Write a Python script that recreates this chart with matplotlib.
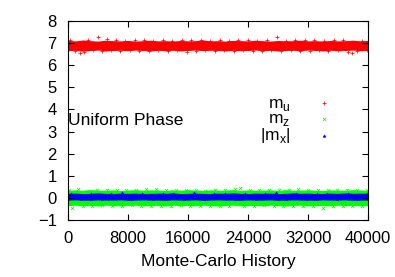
import numpy as np
import matplotlib
matplotlib.use("Agg")
import matplotlib.pyplot as plt

plt.rcParams['font.family'] = ['Liberation Sans', 'DejaVu Sans']
plt.rcParams['mathtext.fontset'] = 'custom'
plt.rcParams['mathtext.rm'] = 'Liberation Sans'

# sampled band edges of the Monte-Carlo history (every 1000 steps)
steps = list(range(0, 40001, 1000))
mu_hi = [7.06, 7.04, 7.08, 7.05, 7.03, 7.07, 7.05, 7.04, 7.06, 7.03, 7.05, 7.07, 7.04, 7.05,
         7.03, 7.06, 7.04, 7.05, 7.08, 7.04, 7.05, 7.03, 7.06, 7.05, 7.04, 7.07, 7.05, 7.03,
         7.06, 7.04, 7.05, 7.07, 7.04, 7.05, 7.03, 7.06, 7.04, 7.05, 7.07, 7.04, 7.06]
mu_lo = [6.72, 6.74, 6.70, 6.73, 6.75, 6.71, 6.73, 6.74, 6.72, 6.75, 6.73, 6.71, 6.74, 6.72,
         6.74, 6.71, 6.73, 6.75, 6.72, 6.74, 6.73, 6.71, 6.74, 6.72, 6.73, 6.75, 6.72, 6.74,
         6.71, 6.73, 6.74, 6.72, 6.75, 6.73, 6.71, 6.74, 6.72, 6.73, 6.75, 6.72, 6.73]
mz_hi = [0.28, 0.30, 0.27, 0.31, 0.29, 0.28, 0.30, 0.27, 0.29, 0.31, 0.28, 0.30, 0.29, 0.27,
         0.30, 0.28, 0.31, 0.29, 0.27, 0.30, 0.28, 0.29, 0.31, 0.27, 0.30, 0.28, 0.29, 0.30,
         0.27, 0.31, 0.28, 0.29, 0.30, 0.28, 0.27, 0.30, 0.29, 0.28, 0.31, 0.29, 0.28]
mz_lo = [-0.29, -0.27, -0.30, -0.28, -0.31, -0.27, -0.29, -0.30, -0.28, -0.27, -0.30, -0.29,
         -0.28, -0.31, -0.27, -0.29, -0.28, -0.30, -0.27, -0.29, -0.31, -0.28, -0.27, -0.30,
         -0.29, -0.28, -0.30, -0.27, -0.29, -0.31, -0.28, -0.27, -0.30, -0.29, -0.28, -0.30,
         -0.27, -0.29, -0.28, -0.30, -0.29]
mx_hi = [0.14, 0.15, 0.13, 0.14, 0.16, 0.14, 0.13, 0.15, 0.14, 0.15, 0.13, 0.14, 0.15, 0.14,
         0.16, 0.13, 0.14, 0.15, 0.14, 0.13, 0.15, 0.14, 0.16, 0.14, 0.13, 0.15, 0.14, 0.15,
         0.13, 0.14, 0.16, 0.14, 0.15, 0.13, 0.14, 0.15, 0.14, 0.16, 0.14, 0.15, 0.14]
mx_lo = [-0.04, -0.03, -0.04, -0.05, -0.03, -0.04, -0.04, -0.03, -0.05, -0.04, -0.03, -0.04,
         -0.04, -0.05, -0.03, -0.04, -0.04, -0.03, -0.05, -0.04, -0.03, -0.04, -0.04, -0.05,
         -0.03, -0.04, -0.04, -0.03, -0.05, -0.04, -0.03, -0.04, -0.04, -0.05, -0.03, -0.04,
         -0.04, -0.03, -0.05, -0.04, -0.04]

# scattered samples outside the dense core
mu_x = [300, 900, 1600, 2100, 2700, 3300, 4000, 4500, 5200, 5800, 6400, 7000, 7600, 8300,
        8900, 9500, 10100, 10800, 11400, 12000, 12600, 13300, 13900, 14500, 15200, 15800,
        16400, 17000, 17700, 18300, 18900, 19600, 20200, 20800, 21400, 22100, 22700, 23300,
        24000, 24600, 25200, 25900, 26500, 27100, 27900, 28400, 29000, 29700, 30300, 30900,
        31600, 32200, 32800, 33500, 34100, 34700, 35400, 36000, 36600, 37300, 37800, 38500,
        39200, 39800]
mu_y = [7.12, 6.66, 6.57, 6.62, 7.14, 6.68, 7.27, 6.65, 7.20, 6.67, 7.13, 6.64, 7.10, 6.69,
        7.15, 6.63, 7.12, 6.66, 7.11, 6.68, 7.16, 6.65, 7.10, 6.67, 7.13, 6.62, 7.12, 6.66,
        7.14, 6.68, 7.11, 6.64, 7.13, 6.67, 7.10, 6.65, 7.15, 6.69, 7.12, 6.66, 7.11, 6.63,
        7.14, 6.67, 7.28, 6.65, 7.10, 6.68, 7.13, 6.66, 7.16, 6.64, 7.12, 6.67, 7.11, 6.65,
        7.14, 6.68, 7.12, 6.62, 6.55, 6.66, 7.11, 6.67]
mz_x = [200, 600, 1300, 2000, 2600, 3200, 3900, 4600, 5200, 5900, 6500, 7200, 7800, 8500,
        9100, 9800, 10400, 11100, 11800, 12400, 13100, 13700, 14400, 15000, 15700, 16300,
        17000, 17600, 18300, 18900, 19600, 20200, 20900, 21500, 22200, 22900, 23500, 24200,
        24800, 25500, 26100, 26800, 27400, 28100, 28700, 29400, 30000, 30700, 31300, 32000,
        32600, 33300, 34000, 34600, 35300, 35900, 36600, 37200, 37900, 38500, 39200, 39800]
mz_y = [0.36, -0.45, 0.38, -0.35, 0.33, -0.38, 0.35, -0.34, 0.37, -0.36, 0.34, -0.39, 0.36,
        -0.33, 0.35, -0.37, 0.38, -0.35, 0.42, -0.36, 0.34, -0.38, 0.36, -0.34, 0.37, -0.36,
        0.35, -0.39, 0.33, -0.35, 0.36, -0.37, 0.34, -0.36, 0.38, 0.45, -0.35, 0.36, -0.38,
        0.35, -0.34, 0.37, -0.36, 0.34, -0.37, 0.36, -0.35, 0.38, -0.36, 0.35, -0.38, 0.34,
        -0.47, 0.36, -0.35, 0.37, -0.36, 0.34, -0.37, 0.35, -0.36, 0.36]
mx_x = [400, 1800, 3100, 4500, 5800, 7200, 8600, 9900, 11300, 12700, 14000, 15400, 16800,
        18100, 19500, 20900, 22200, 23600, 25000, 26300, 27700, 29100, 30400, 31800, 33200,
        34500, 35900, 37300, 38600, 39900]
mx_y = [0.18, -0.07, 0.19, -0.06, 0.18, 0.20, -0.07, 0.18, -0.06, 0.19, 0.18, -0.07, 0.20,
        -0.06, 0.18, 0.19, -0.07, 0.18, -0.06, 0.19, 0.20, -0.07, 0.18, -0.06, 0.19, 0.18,
        -0.07, 0.19, -0.06, 0.18]

red = '#ff0000'
green = '#00ff00'
blue = '#0000ff'

fig = plt.figure(figsize=(3.95, 2.77), dpi=100)
ax = fig.add_axes([0.172, 0.206, 0.76, 0.718])

ax.fill_between(steps, mu_lo, mu_hi, color=red, lw=2, edgecolor=red)
ax.scatter(mu_x, mu_y, marker='+', s=6, c=red, linewidths=0.5, label=r'm$_\mathregular{u}$')
ax.fill_between(steps, mz_lo, mz_hi, color=green, lw=2, edgecolor=green)
ax.scatter(mz_x, mz_y, marker='x', s=5, c=green, linewidths=0.5, label=r'm$_\mathregular{z}$')
ax.fill_between(steps, mx_lo, mx_hi, color=blue, lw=2, edgecolor=blue)
ax.scatter(mx_x, mx_y, marker='*', s=6, c=blue, linewidths=0.3, label=r'|m$_\mathregular{x}$|')

ax.text(0, 3.5, 'Uniform Phase', fontsize=12.5, va='center', ha='left')

ax.set_xlim(0, 40000)
ax.set_ylim(-1, 8)
ax.set_xticks([0, 8000, 16000, 24000, 32000, 40000])
ax.set_yticks(range(-1, 9))
ax.tick_params(direction='in', top=True, right=True, length=4, labelsize=12, pad=8)
ax.set_xlabel('Monte-Carlo History', fontsize=12.5, labelpad=6)

ax.legend(loc='upper right', bbox_to_anchor=(0.883, 0.625), frameon=False, markerfirst=False,
          fontsize=12.5, handlelength=1.0, handletextpad=1.45, labelspacing=-0.1,
          borderpad=0, borderaxespad=0, markerscale=1.0)

fig.savefig('out.png', dpi=100)
